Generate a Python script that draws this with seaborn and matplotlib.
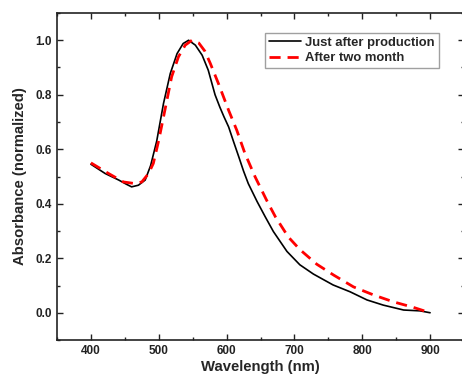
import numpy as np
import pandas as pd
import matplotlib
matplotlib.use("Agg")
import matplotlib.pyplot as plt
import seaborn as sns
from matplotlib.ticker import MultipleLocator

wl_fresh = [400, 421, 441, 452, 460, 470, 480, 488, 497, 507, 517, 527, 536, 544, 554, 564, 573, 583,
            590, 596, 603, 610, 618, 625, 632, 645, 657, 669, 689, 708, 728, 757, 782, 807, 831, 861,
            885, 900]
abs_fresh = [0.545, 0.511, 0.487, 0.472, 0.462, 0.468, 0.487, 0.540, 0.630, 0.768, 0.878, 0.951, 0.988,
             1.0, 0.982, 0.945, 0.89, 0.80, 0.755, 0.720, 0.682, 0.630, 0.572, 0.520, 0.474, 0.408,
             0.352, 0.298, 0.225, 0.176, 0.142, 0.102, 0.077, 0.047, 0.028, 0.010, 0.007, 0.0]

wl_aged = [400, 426, 448, 465, 475, 485, 492, 500, 510, 519, 529, 539, 549, 559, 568, 576, 588, 603,
           615, 627, 642, 659, 672, 691, 708, 733, 758, 787, 817, 846, 875, 900]
abs_aged = [0.550, 0.511, 0.480, 0.474, 0.480, 0.511, 0.548, 0.633, 0.755, 0.866, 0.939, 0.982, 1.0,
            0.990, 0.960, 0.915, 0.841, 0.743, 0.670, 0.585, 0.499, 0.413, 0.352, 0.278, 0.232, 0.178,
            0.138, 0.095, 0.065, 0.040, 0.020, 0.0]

labels = ["Just after production", "After two month"]

df = pd.concat([
    pd.DataFrame({"Wavelength": wl_fresh, "Absorbance": abs_fresh, "Sample": labels[0]}),
    pd.DataFrame({"Wavelength": wl_aged, "Absorbance": abs_aged, "Sample": labels[1]}),
])

sns.set_theme(style="ticks")
plt.rcParams["font.family"] = ["Liberation Sans", "DejaVu Sans"]
plt.rcParams["font.weight"] = "bold"

fig = plt.figure(figsize=(4.62, 3.79), dpi=100)
ax = fig.add_axes([57/462, 39/379, 407/462, 327/379])

sns.lineplot(data=df, x="Wavelength", y="Absorbance", hue="Sample", style="Sample",
             palette={labels[0]: "black", labels[1]: "#ff0000"},
             dashes={labels[0]: "", labels[1]: (4, 2.5)},
             ax=ax, sort=False, estimator=None)
for line, lw in zip(ax.lines[:2], [1.2, 2.0]):
    line.set_linewidth(lw)
    line.set_solid_joinstyle("round")
    line.set_dash_joinstyle("round")

ax.set_xlim(350, 950)
ax.set_ylim(-0.1, 1.1)
ax.xaxis.set_major_locator(MultipleLocator(100))
ax.xaxis.set_minor_locator(MultipleLocator(50))
ax.yaxis.set_minor_locator(MultipleLocator(0.1))
ax.set_yticks([0.0, 0.2, 0.4, 0.6, 0.8, 1.0])
ax.set_yticklabels(["0.0", "0.2", "0.4", "0.6", "0.8", "1.0"])
ax.tick_params(which="both", direction="in", top=True, right=True, width=1.0, colors="#222222")
ax.tick_params(which="major", length=4, labelsize=8.5)
ax.tick_params(which="minor", length=2.5)
for lab in ax.get_xticklabels() + ax.get_yticklabels():
    lab.set_fontweight("bold")
    lab.set_color("#222222")
for s in ax.spines.values():
    s.set_linewidth(1.2)
    s.set_color("#222222")

ax.set_xlabel("Wavelength (nm)", fontsize=10.7, fontweight="bold", labelpad=2)
ax.set_ylabel("Absorbance (normalized)", fontsize=10.7, fontweight="bold", labelpad=6)

handles, _ = ax.get_legend_handles_labels()
for h, lw in zip(handles, [1.2, 2.0]):
    h.set_linewidth(lw)
leg = ax.legend(handles=handles, labels=labels, loc="upper left", bbox_to_anchor=(0.512, 0.94),
                frameon=True, fancybox=False, edgecolor="#888888", fontsize=9.4,
                handlelength=2.4, handletextpad=0.35, borderpad=0.3, labelspacing=0.25, borderaxespad=0)
leg.get_frame().set_linewidth(1.0)
for t in leg.get_texts():
    t.set_fontweight("bold")

fig.savefig("out.png", dpi=100)
